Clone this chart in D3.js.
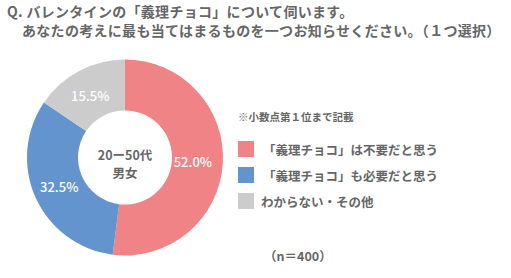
<!DOCTYPE html>
<html>
<head>
<meta charset="utf-8">
<script src="https://cdn.jsdelivr.net/npm/d3@7"></script>
<style>
  body { margin: 0; background: #fff; }
  svg { display: block; font-family: "Noto Sans CJK JP", "Noto Sans", sans-serif; }
</style>
</head>
<body>
<svg id="chart"></svg>
<script>
const w = 511;
const h = 278;

const categories = ["「義理チョコ」は不要だと思う", "「義理チョコ」も必要だと思う", "わからない・その他"];
const values = [52.0, 32.5, 15.5];
const colors = ["#ef8385", "#6494cd", "#cccccc"];
const titleLines = ["Q. バレンタインの「義理チョコ」について伺います。", "あなたの考えに最も当てはまるものを一つお知らせください。（１つ選択）"];
const centerLines = ["20ー50代", "男女"];
const note = "※小数点第１位まで記載";
const sampleText = "（n＝400）";

const svg = d3.select("#chart").attr("width", w).attr("height", h);

const textColor = "#666";

// title
svg.append("text")
    .attr("x", 7).attr("y", 17)
    .attr("font-size", 14)
    .attr("font-weight", "bold")
    .attr("letter-spacing", 0.3)
    .attr("fill", textColor)
    .text(titleLines[0]);
svg.append("text")
    .attr("x", 22).attr("y", 36)
    .attr("font-size", 14)
    .attr("font-weight", "bold")
    .attr("letter-spacing", 0.3)
    .attr("fill", textColor)
    .text(titleLines[1]);

// donut
const cx = 125, cy = 157.5;
const outerR = 98, innerR = 47;

const pie = d3.pie().sort(null).value(d => d);
const arc = d3.arc().innerRadius(innerR).outerRadius(outerR);
const labelArc = d3.arc().innerRadius(70).outerRadius(70);

const g = svg.append("g").attr("transform", "translate(" + cx + "," + cy + ")");

const arcs = pie(values);

g.selectAll("path")
    .data(arcs)
    .enter()
    .append("path")
    .attr("d", arc)
    .attr("fill", (d, i) => colors[i]);

g.selectAll("text.pct")
    .data(arcs)
    .enter()
    .append("text")
    .attr("class", "pct")
    .attr("x", d => labelArc.centroid(d)[0] - 2)
    .attr("y", d => labelArc.centroid(d)[1])
    .attr("text-anchor", "middle")
    .attr("dominant-baseline", "central")
    .attr("font-size", 13)
    .attr("font-weight", 500)
    .attr("fill", "#fff")
    .text(d => d.data.toFixed(1) + "%");

g.selectAll("text.center")
    .data(centerLines)
    .enter()
    .append("text")
    .attr("class", "center")
    .attr("x", 0)
    .attr("y", (d, i) => -3 + i * 18)
    .attr("text-anchor", "middle")
    .attr("dominant-baseline", "central")
    .attr("font-size", 12.5)
    .attr("font-weight", "bold")
    .attr("fill", textColor)
    .text(d => d);

// legend
svg.append("text")
    .attr("x", 238).attr("y", 121)
    .attr("font-size", 10.5)
    .attr("font-weight", "bold")
    .attr("fill", textColor)
    .text(note);

const legend = svg.selectAll("g.legend")
    .data(categories)
    .enter()
    .append("g")
    .attr("class", "legend")
    .attr("transform", (d, i) => "translate(238," + (141 + i * 26) + ")");

legend.append("rect")
    .attr("width", 16)
    .attr("height", 16)
    .attr("fill", (d, i) => colors[i]);

legend.append("text")
    .attr("x", (d, i) => i === 2 ? 23 : 25)
    .attr("y", 8)
    .attr("dominant-baseline", "central")
    .attr("font-size", 12.5)
    .attr("font-weight", "bold")
    .attr("fill", textColor)
    .text(d => d);

svg.append("text")
    .attr("x", 264).attr("y", 255)
    .attr("dominant-baseline", "central")
    .attr("font-size", 12.5)
    .attr("font-weight", "bold")
    .attr("fill", textColor)
    .text(sampleText);
</script>
</body>
</html>
